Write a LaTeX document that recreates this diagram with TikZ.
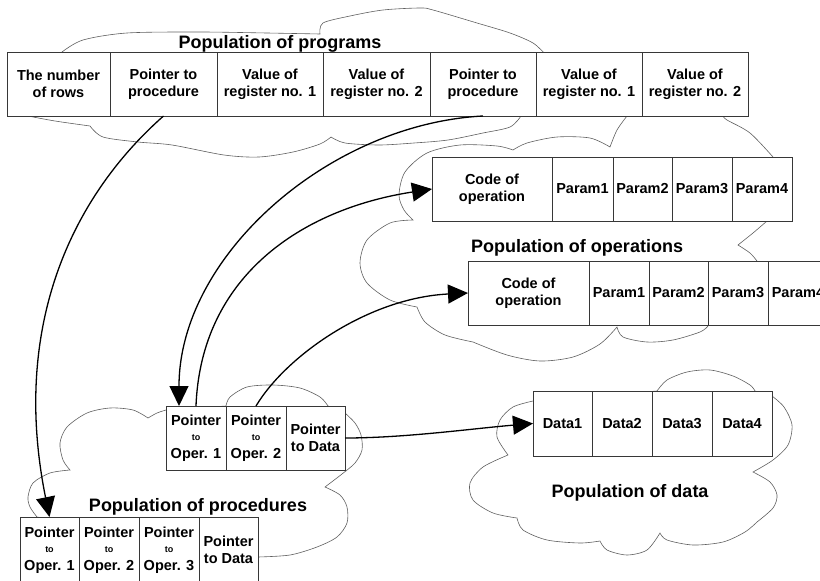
\documentclass[tikz,border=0pt]{standalone}
\usepackage{fontspec}
\setmainfont{Liberation Sans}
\usetikzlibrary{arrows.meta,positioning}
\definecolor{edge}{RGB}{55,55,55}
\definecolor{cloudc}{RGB}{95,95,95}
\newcommand{\tosmall}{{\fontsize{9}{10}\selectfont to}}

\begin{document}
\begin{tikzpicture}[x=1pt, y=-1pt,
    cell/.style={draw=edge, line width=0.9pt, fill=white, inner sep=0pt, outer sep=0pt,
      minimum height=64pt, align=center, font=\bfseries\fontsize{14.5}{17}\selectfont},
    ptr/.style={cell, minimum width=60pt},
    title/.style={anchor=base, font=\bfseries\fontsize{18}{20}\selectfont},
    cloudline/.style={draw=cloudc, line width=0.6pt},
    link/.style={-{Triangle[length=20pt, width=19pt]}, line width=1.3pt}
  ]
  \useasboundingbox (0,0) rectangle (820,581);

  % clouds
  \draw[cloudline] plot[smooth] coordinates {(62,52) (83,40) (127,33) (200,32) (267,33) (320,34)}
    -- plot[smooth] coordinates {(320,34) (323,23) (350,16) (383,10) (420,8) (433,10) (477,23) (510,33) (533,43) (545,54)}
    -- (521,116)
    -- plot[smooth] coordinates {(521,116) (510,127) (483,133) (448,140) (414,143) (379,145) (345,143) (331,137)}
    -- plot[smooth] coordinates {(331,137) (320,144) (293,152) (259,157) (224,155) (172,145) (138,142) (103,137) (90,126)}
    -- plot[smooth] coordinates {(90,126) (55,121) (28,116)} -- cycle;
  \draw[cloudline] plot[smooth] coordinates {(627,116) (617,130) (610,147)}
    -- plot[smooth] coordinates {(610,147) (590,138) (557,137) (527,143) (513,150)}
    -- plot[smooth] coordinates {(513,150) (497,146) (460,145) (427,153) (405,172) (399,195) (404,210) (413,220)}
    -- plot[smooth] coordinates {(413,220) (390,223) (367,240) (360,263) (367,283) (390,300) (417,307)}
    -- plot[smooth] coordinates {(417,307) (425,322) (445,335) (473,342)}
    -- plot[smooth] coordinates {(473,342) (507,355) (540,361) (573,357) (600,344) (617,327)}
    -- plot[smooth] coordinates {(617,327) (623,337) (647,342) (673,340) (700,332) (708,326)}
    -- (757,261)
    -- plot[smooth] coordinates {(757,261) (750,253) (738,245)}
    -- plot[smooth] coordinates {(738,245) (753,233) (767,221)}
    -- (773,157)
    -- plot[smooth] coordinates {(773,157) (750,133) (727,120) (723,116)} -- cycle;
  \draw[cloudline] plot[smooth] coordinates {(166,410) (157,413) (148,418)}
    -- plot[smooth] coordinates {(148,418) (133,410) (110,408) (87,413) (67,427) (60,443) (63,460) (70,470)}
    -- plot[smooth] coordinates {(70,470) (50,473) (33,483) (28,497) (30,507) (37,517)}
    -- (258,557)
    -- plot[smooth] coordinates {(258,557) (290,555) (317,547) (337,537) (347,523) (347,507) (340,495) (325,487)}
    -- plot[smooth] coordinates {(325,487) (342,474) (355,463) (362,450) (361,435) (355,423) (345,413)}
    -- (328,406)
    -- plot[smooth] coordinates {(328,406) (320,397) (300,388) (273,385) (247,387) (230,397) (226,406)} -- cycle;
  \draw[cloudline] plot[smooth] coordinates {(533,401) (513,407) (500,420) (497,437) (508,455)}
    -- plot[smooth] coordinates {(508,455) (483,467) (470,483) (473,500) (493,513) (517,518)}
    -- plot[smooth] coordinates {(517,518) (523,530) (547,540) (580,543) (600,541)}
    -- plot[smooth] coordinates {(600,541) (607,550) (627,555) (647,550) (660,533)}
    -- plot[smooth] coordinates {(660,533) (667,540) (693,545) (723,542) (745,532) (757,522)}
    -- plot[smooth] coordinates {(757,522) (773,508) (777,495) (770,482) (753,472)}
    -- plot[smooth] coordinates {(753,472) (773,460) (788,445) (792,425) (784,407) (772,396)}
    -- (755,391)
    -- plot[smooth] coordinates {(755,391) (750,385) (733,376) (710,370) (687,372) (667,380) (657,391)} -- cycle;

  % population of programs
  \node[cell, minimum width=103pt, anchor=north west] (prog1) at (7,52) {The number\\of rows};
  \node[cell, minimum width=107pt, right=0pt of prog1] (prog2) {Pointer to\\procedure};
  \node[cell, minimum width=106pt, right=0pt of prog2] (prog3) {Value of\\register no. 1};
  \node[cell, minimum width=107pt, right=0pt of prog3] (prog4) {Value of\\register no. 2};
  \node[cell, minimum width=106pt, right=0pt of prog4] (prog5) {Pointer to\\procedure};
  \node[cell, minimum width=106pt, right=0pt of prog5] (prog6) {Value of\\register no. 1};
  \node[cell, minimum width=106pt, right=0pt of prog6] (prog7) {Value of\\register no. 2};

  % population of operations
  \node[cell, minimum width=120pt, anchor=north west] (opA1) at (432,157) {Code of\\operation};
  \node[cell, minimum width=61pt, right=0pt of opA1] (opA2) {Param1};
  \node[cell, minimum width=59pt, right=0pt of opA2] (opA3) {Param2};
  \node[cell, minimum width=60pt, right=0pt of opA3] (opA4) {Param3};
  \node[cell, minimum width=60pt, right=0pt of opA4] (opA5) {Param4};
  \node[cell, minimum width=121pt, anchor=north west] (opB1) at (468,261) {Code of\\operation};
  \node[cell, minimum width=60pt, right=0pt of opB1] (opB2) {Param1};
  \node[cell, minimum width=59pt, right=0pt of opB2] (opB3) {Param2};
  \node[cell, minimum width=60pt, right=0pt of opB3] (opB4) {Param3};
  \node[cell, minimum width=60pt, right=0pt of opB4] (opB5) {Param4};

  % population of procedures
  \node[ptr, anchor=north west] (procA1) at (166,406) {Pointer\\[-2pt]\tosmall\\[1pt]Oper. 1};
  \node[ptr, right=0pt of procA1] (procA2) {Pointer\\[-2pt]\tosmall\\[1pt]Oper. 2};
  \node[ptr, minimum width=59pt, right=0pt of procA2] (procA3) {Pointer\\to Data};
  \node[ptr, minimum width=59pt, minimum height=66pt, anchor=north west] (procB1) at (20,517) {Pointer\\[-2pt]\tosmall\\[1pt]Oper. 1};
  \node[ptr, minimum height=66pt, right=0pt of procB1] (procB2) {Pointer\\[-2pt]\tosmall\\[1pt]Oper. 2};
  \node[ptr, minimum height=66pt, right=0pt of procB2] (procB3) {Pointer\\[-2pt]\tosmall\\[1pt]Oper. 3};
  \node[ptr, minimum width=59pt, minimum height=66pt, right=0pt of procB3] (procB4) {Pointer\\to Data};

  % population of data
  \node[ptr, minimum width=59pt, minimum height=65pt, anchor=north west] (data1) at (533,391) {Data1};
  \node[ptr, minimum height=65pt, right=0pt of data1] (data2) {Data2};
  \node[ptr, minimum height=65pt, right=0pt of data2] (data3) {Data3};
  \node[ptr, minimum height=65pt, right=0pt of data3] (data4) {Data4};

  % titles
  \node[title] (tprog) at (280,48.5) {Population of programs};
  \node[title] (tops) at (577,252) {Population of operations};
  \node[title] (tproc) at (198,511) {Population of procedures};
  \node[title] (tdata) at (630,497) {Population of data};

  % links
  \draw[link] (prog2.south) .. controls +(-94,83) and +(-38,-188) .. (procB1.north);
  \draw[link] (prog5.south) .. controls +(-154,8) and +(0,-150) .. ([xshift=-17pt]procA1.north);
  \draw[link] (procA1.north) .. controls +(5,-130) and +(-130,20) .. (opA1.west);
  \draw[link] (procA2.north) .. controls +(30,-50) and +(-100,5) .. (opB1.west);
  \draw[link] (procA3.east) .. controls +(60,0) and +(-60,5) .. (data1.west);
\end{tikzpicture}
\end{document}
